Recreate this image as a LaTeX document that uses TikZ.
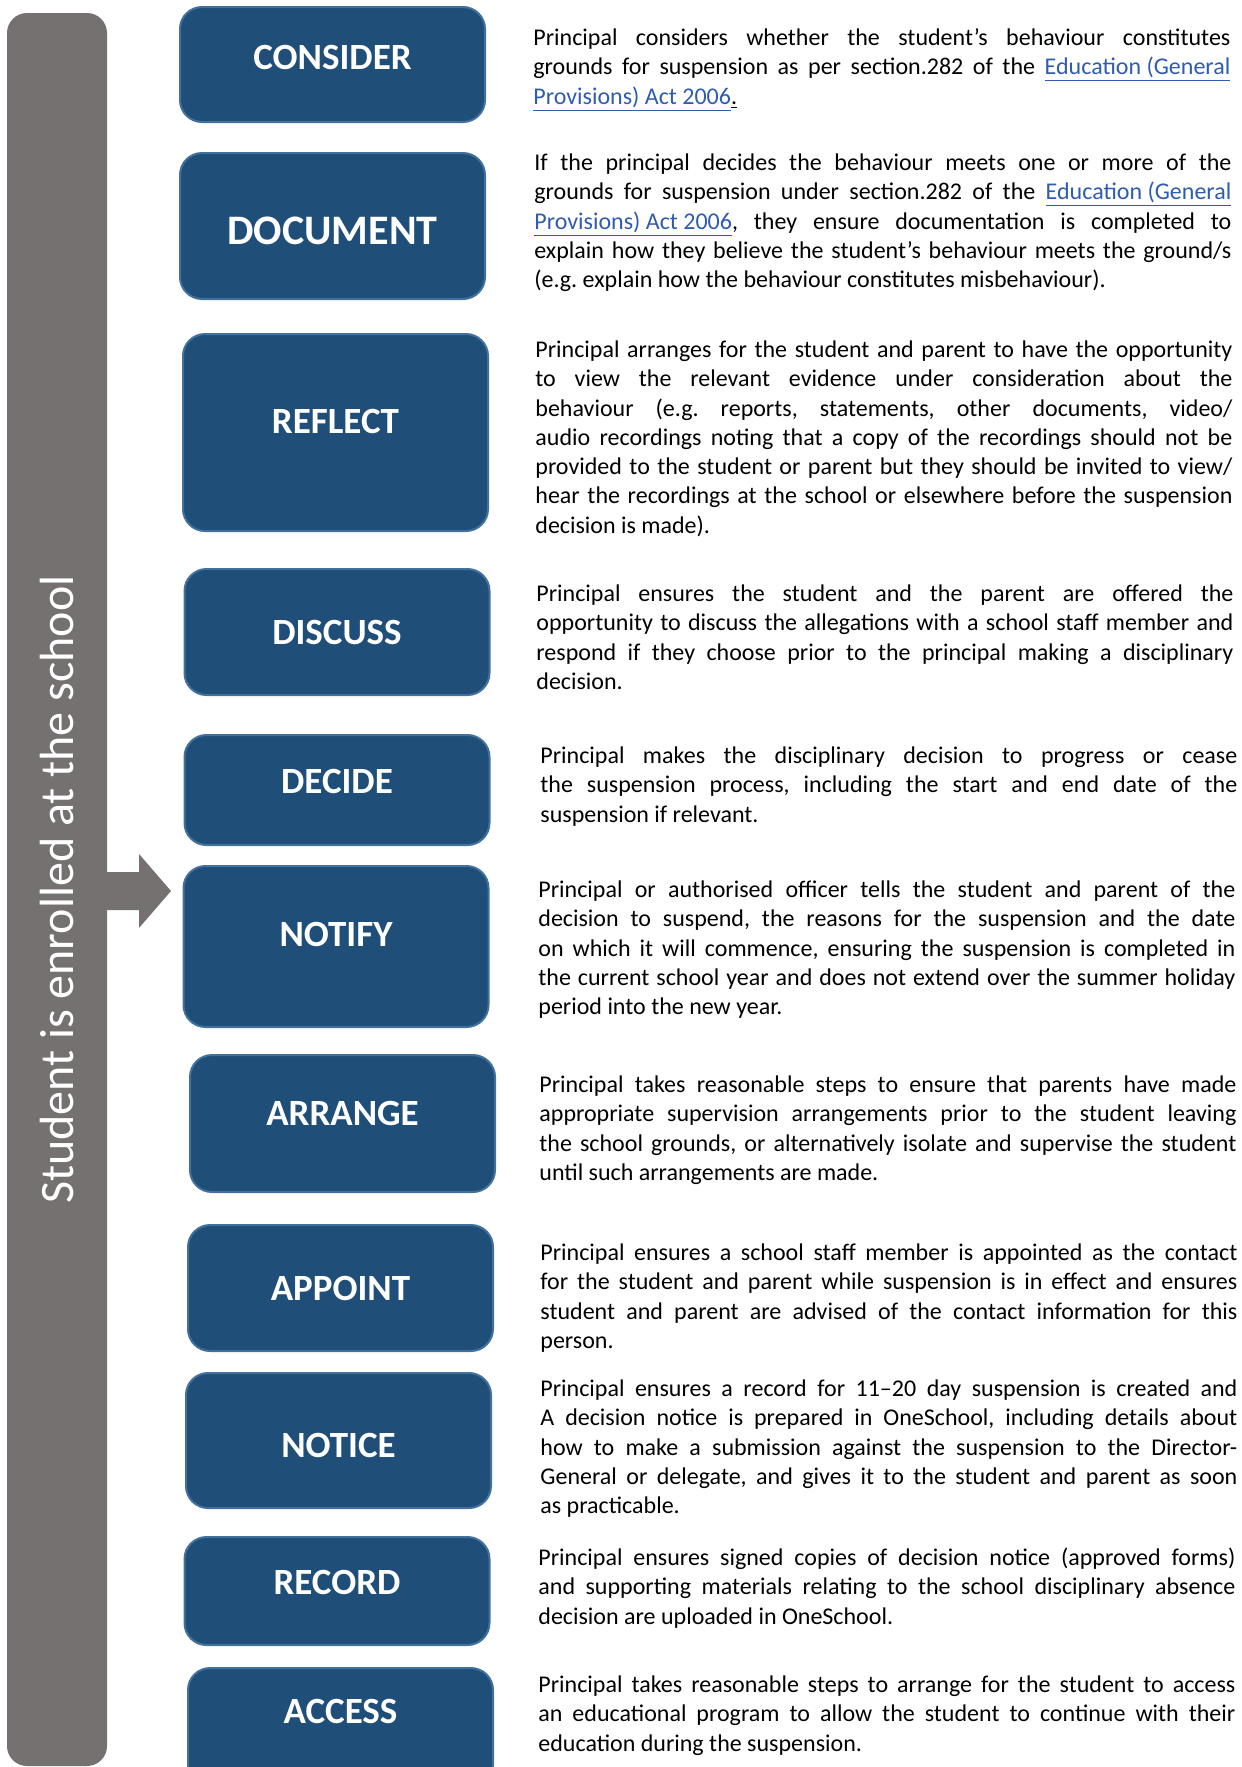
\documentclass[tikz,border=0pt]{standalone}
\usepackage{fontspec}
\setmainfont{Carlito}
\usetikzlibrary{positioning}
\frenchspacing

\definecolor{stepblue}{HTML}{1F4E79}
\definecolor{stepedge}{HTML}{41719C}
\definecolor{bargray}{HTML}{767171}
\definecolor{linkblue}{HTML}{2F5BB0}

\newcommand{\actlink}[1]{{\color{linkblue}\underline{#1}}}

\tikzset{
  stepbox/.style={draw=stepedge, line width=1pt, fill=stepblue, rounded corners=11pt,
    text=white, font=\fontsize{18.5}{22}\selectfont\bfseries,
    minimum width=152.5pt, inner sep=0pt},
  lift/.style={text height=#1, text depth=0pt},
  desc/.style={anchor=north west, inner sep=0pt, text width=348.5pt, align=justify,
    yshift=-1.75pt, font=\fontsize{12}{14.65}\selectfont},
}

\begin{document}
\begin{tikzpicture}[x=0.5pt, y=-0.5pt]
  \useasboundingbox (0,0) rectangle (1242,1767);
  \clip (0,0) rectangle (1242,1767);

  % side bar and arrow
  \node[fill=bargray, rounded corners=10pt, rotate=90, minimum width=876.5pt, minimum height=50pt,
        inner sep=0pt, text=white, font=\fontsize{24}{26}\selectfont] (bar) at (57,889.5)
        {Student is enrolled at the school};
  \fill[bargray] (104,872) -- (139,872) -- (139,854) -- (171,891) -- (139,928) -- (139,910) -- (104,910) -- cycle;

  % step boxes
  \node[stepbox, minimum height=57.5pt, lift=5.4pt] (consider) at (332.5,64.5) {CONSIDER};
  \node[stepbox, minimum height=73pt, lift=18.5pt, font=\fontsize{21}{24}\selectfont\bfseries] (document) at (332.5,226) {DOCUMENT};
  \node[stepbox, minimum height=98.5pt, lift=0.9pt] (reflect) at (335.5,432.5) {REFLECT};
  \node[stepbox, minimum height=63pt, lift=12pt] (discuss) at (337,632) {DISCUSS};
  \node[stepbox, minimum height=55pt, lift=3.9pt] (decide) at (337,790) {DECIDE};
  \node[stepbox, minimum height=80.5pt, lift=0.4pt] (notify) at (336,946.5) {NOTIFY};
  \node[stepbox, minimum height=68.5pt, lift=1.9pt] (arrange) at (342.5,1123.5) {ARRANGE};
  \node[stepbox, minimum height=63pt, lift=12pt] (appoint) at (340.5,1288) {APPOINT};
  \node[stepbox, minimum height=67.5pt, lift=16.9pt] (notice) at (338.5,1440.5) {NOTICE};
  \node[stepbox, minimum height=54pt, lift=3.9pt] (record) at (337,1591) {RECORD};
  \node[stepbox, minimum height=60pt, text height=0pt, text depth=4.1pt] (access) at (340.5,1728) {ACCESS};

  % descriptions
  \node[desc] (considertxt) at (533,21) {\strut Principal considers whether the student’s behaviour constitutes\linebreak
    grounds for suspension as per section.282 of the \actlink{Education (General}\linebreak
    \actlink{Provisions) Act 2006}\underline{.}};
  \node[desc] (documenttxt) at (534,146) {\strut If the principal decides the behaviour meets one or more of the\linebreak
    grounds for suspension under section.282 of the \actlink{Education (General}\linebreak
    \actlink{Provisions) Act 2006}, they ensure documentation is completed to\linebreak
    explain how they believe the student’s behaviour meets the ground/s\linebreak
    (e.g. explain how the behaviour constitutes misbehaviour).};
  \node[desc] (reflecttxt) at (535,333) {\strut Principal arranges for the student and parent to have the opportunity\linebreak
    to view the relevant evidence under consideration about the\linebreak
    behaviour (e.g. reports, statements, other documents, video/\linebreak
    audio recordings noting that a copy of the recordings should not be\linebreak
    provided to the student or parent but they should be invited to view/\linebreak
    hear the recordings at the school or elsewhere before the suspension\linebreak
    decision is made).};
  \node[desc] (discusstxt) at (536,577) {\strut Principal ensures the student and the parent are offered the\linebreak
    opportunity to discuss the allegations with a school staff member and\linebreak
    respond if they choose prior to the principal making a disciplinary\linebreak
    decision.};
  \node[desc] (decidetxt) at (540,739) {\strut Principal makes the disciplinary decision to progress or cease\linebreak
    the suspension process, including the start and end date of the\linebreak
    suspension if relevant.};
  \node[desc] (notifytxt) at (538,873) {\strut Principal or authorised officer tells the student and parent of the\linebreak
    decision to suspend, the reasons for the suspension and the date\linebreak
    on which it will commence, ensuring the suspension is completed in\linebreak
    the current school year and does not extend over the summer holiday\linebreak
    period into the new year.};
  \node[desc] (arrangetxt) at (539,1068) {\strut Principal takes reasonable steps to ensure that parents have made\linebreak
    appropriate supervision arrangements prior to the student leaving\linebreak
    the school grounds, or alternatively isolate and supervise the student\linebreak
    until such arrangements are made.};
  \node[desc] (appointtxt) at (540,1236) {\strut Principal ensures a school staff member is appointed as the contact\linebreak
    for the student and parent while suspension is in effect and ensures\linebreak
    student and parent are advised of the contact information for this\linebreak
    person.};
  \node[desc] (noticetxt) at (540,1372) {\strut Principal ensures a record for 11--20 day suspension is created and\linebreak
    A decision notice is prepared in OneSchool, including details about\linebreak
    how to make a submission against the suspension to the Director-\linebreak
    General or delegate, and gives it to the student and parent as soon\linebreak
    as practicable.};
  \node[desc] (recordtxt) at (538,1541) {\strut Principal ensures signed copies of decision notice (approved forms)\linebreak
    and supporting materials relating to the school disciplinary absence\linebreak
    decision are uploaded in OneSchool.};
  \node[desc] (accesstxt) at (538,1668) {\strut Principal takes reasonable steps to arrange for the student to access\linebreak
    an educational program to allow the student to continue with their\linebreak
    education during the suspension.};
\end{tikzpicture}
\end{document}
